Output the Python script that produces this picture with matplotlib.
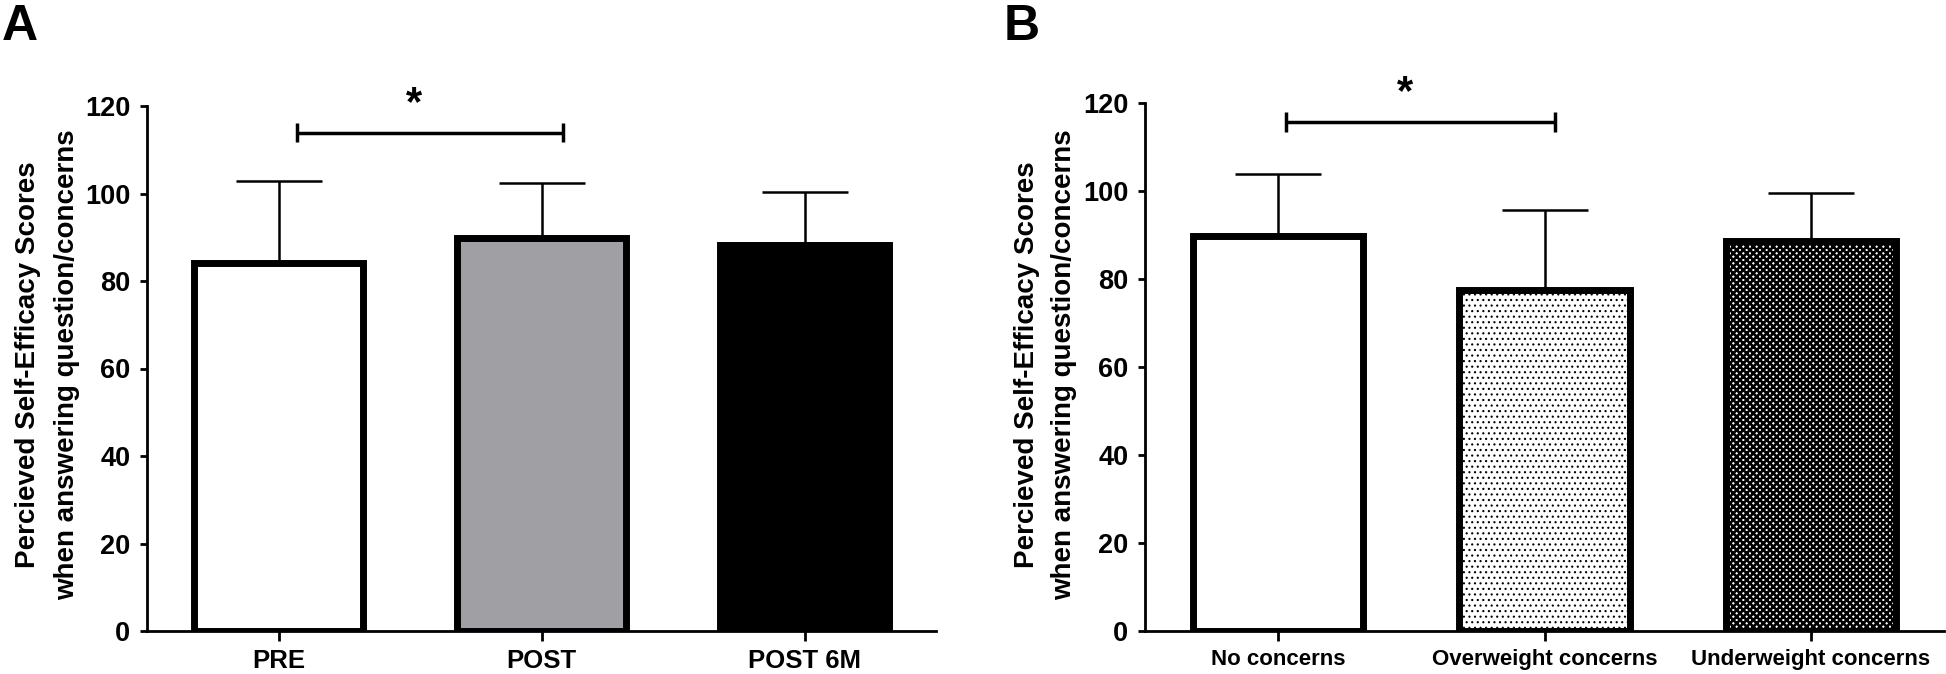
import numpy as np
import matplotlib
matplotlib.use('Agg')
import matplotlib.pyplot as plt

# panel A
groupsA = ['PRE', 'POST', 'POST 6M']
meanA = [84.2, 89.9, 88.3]
sdA = [18.7, 12.5, 12.1]
# panel B
groupsB = ['No concerns', 'Overweight concerns', 'Underweight concerns']
meanB = [89.8, 77.6, 88.6]
sdB = [14.1, 18.1, 10.9]

sigA = (0.07, 1.08, 113.9)
sigB = (0.03, 1.04, 115.7)

plt.rcParams['font.family'] = ['Liberation Sans', 'DejaVu Sans']
plt.rcParams['font.weight'] = 'bold'
plt.rcParams['hatch.linewidth'] = 1.0

fig = plt.figure(figsize=(19.46, 6.74), dpi=100)
axA = fig.add_axes([147/1946, 1-631/674, (936-147)/1946, (631-106)/674])
axB = fig.add_axes([1145/1946, 1-631/674, (1944-1145)/1946, (631-103)/674])


def style(ax, labels, fs_x):
    ax.set_xlim(-0.5, 2.5)
    ax.set_ylim(0, 120)
    ax.set_yticks(np.arange(0, 121, 20))
    ax.set_xticks(range(3))
    ax.set_xticklabels(labels, fontsize=fs_x, fontweight='bold')
    for lab in ax.get_yticklabels():
        lab.set_fontsize(19.5)
        lab.set_fontweight('bold')
    for s in ['top', 'right']:
        ax.spines[s].set_visible(False)
    for s in ['left', 'bottom']:
        ax.spines[s].set_linewidth(2)
    ax.tick_params(axis='y', length=5, width=2, pad=7)
    ax.tick_params(axis='x', length=7, width=2, pad=6)


def sig(ax, x0, x1, y):
    ax.plot([x0, x1], [y, y], color='k', lw=2.5, solid_capstyle='butt')
    ax.plot([x0, x0], [y-2.2, y+2.2], color='k', lw=2.5, solid_capstyle='butt')
    ax.plot([x1, x1], [y-2.2, y+2.2], color='k', lw=2.5, solid_capstyle='butt')
    ax.text((x0+x1)/2 - 0.06, y+6.5, '*', ha='center', va='center', fontsize=30, fontweight='bold')


x = np.arange(3)
# A
axA.errorbar(x, meanA, yerr=[[0]*3, sdA], fmt='none', ecolor='k', elinewidth=1.8,
             capsize=31, capthick=1.8, zorder=1)
axA.bar(x, meanA, width=0.645, color=['white', '#a0a0a4', 'black'], edgecolor='k',
        linewidth=5, zorder=2)
sig(axA, *sigA)
style(axA, groupsA, 18.5)

# B
axB.errorbar(x, meanB, yerr=[[0]*3, sdB], fmt='none', ecolor='k', elinewidth=1.8,
             capsize=31, capthick=1.8, zorder=1)
bars = axB.bar(x, meanB, width=0.64, color='white', edgecolor='k', linewidth=5, zorder=2)
bars[1].set_hatch('...')
bars[2].set_hatch('xxxxx')
try:
    bars[1].set_hatch_linewidth(0.8)
    bars[2].set_hatch_linewidth(1.9)
except AttributeError:
    pass
sig(axB, *sigB)
style(axB, groupsB, 16)

# y labels
for x0, x1 in [(28, 67), (1027, 1064)]:
    fig.text(x0/1946, 1-365/674, 'Percieved Self-Efficacy Scores', rotation=90,
             ha='center', va='center', fontsize=20, fontweight='bold')
    fig.text(x1/1946, 1-365/674, 'when answering question/concerns', rotation=90,
             ha='center', va='center', fontsize=20, fontweight='bold')

fig.text(2/1946, 1-4/674, 'A', ha='left', va='top', fontsize=36, fontweight='bold')
fig.text(1004/1946, 1-4/674, 'B', ha='left', va='top', fontsize=36, fontweight='bold')

plt.savefig('out.png', dpi=100)
